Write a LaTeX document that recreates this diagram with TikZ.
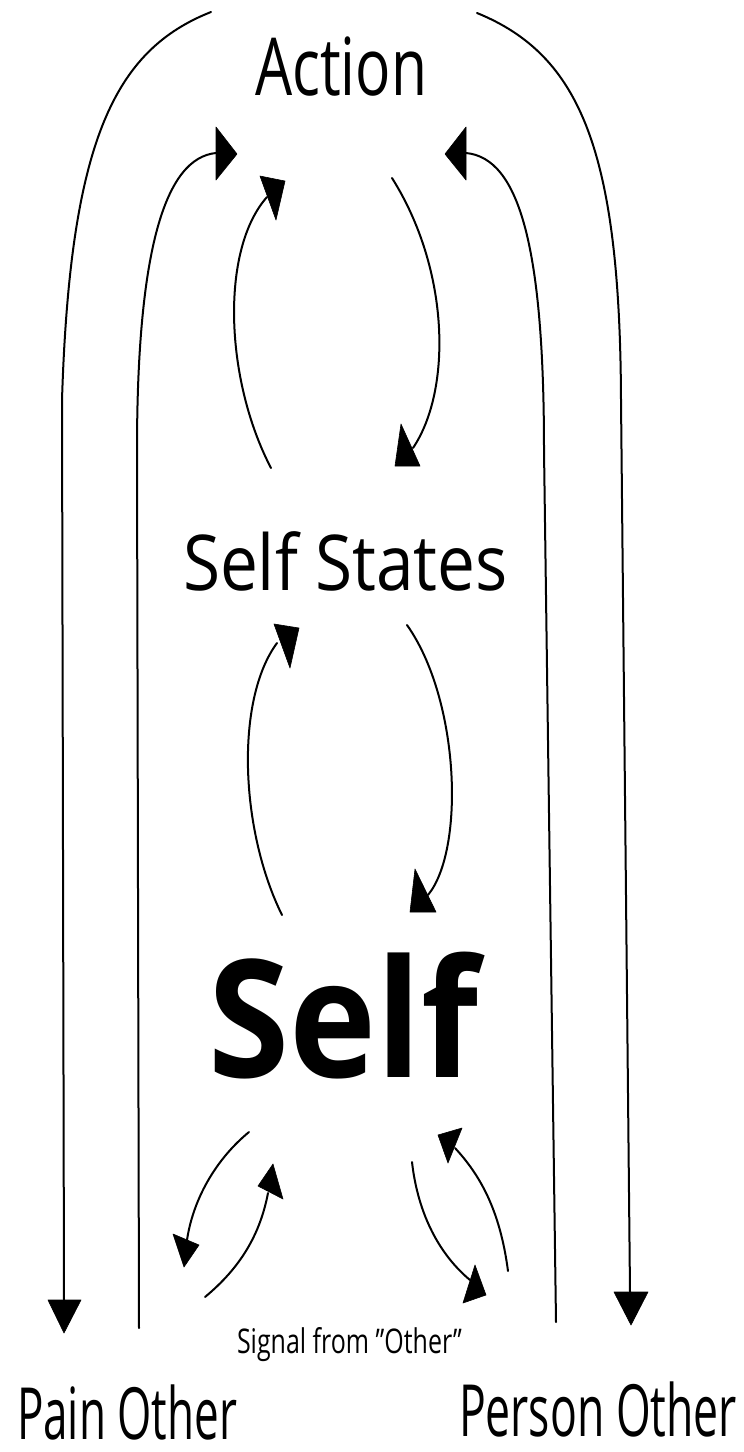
\documentclass[tikz,border=0pt]{standalone}
\usepackage{fontspec}
\setmainfont{Open Sans}
\usepackage{graphicx}
\begin{document}
\begin{tikzpicture}[x=1pt,y=-1pt,
  flow/.style={line width=2pt, line cap=round},
  head/.style={fill=black, draw=black, line width=0.6pt, line join=round},
  lbl/.style={inner sep=0pt, outer sep=0pt, anchor=base west}]
\useasboundingbox (0,0) rectangle (744,1452);

% ---- labels ----
\node[lbl] (action) at (255,95) {\resizebox{172pt}{\height}{\fontsize{80}{80}\selectfont Action}};
\node[lbl] (states) at (183,590) {\resizebox{325pt}{\height}{\fontsize{77}{77}\selectfont Self States}};
\node[lbl] (self) at (208,1077) {\resizebox{270pt}{\height}{\fontsize{164}{164}\selectfont\bfseries Self}};
\node[lbl] (signal) at (237,1353) {\resizebox{225pt}{\height}{\fontsize{34}{34}\selectfont Signal from \symbol{34}Other\symbol{34}}};
\node[lbl] (pain) at (17,1439) {\resizebox{220pt}{\height}{\fontsize{72}{72}\selectfont Pain Other}};
\node[lbl] (person) at (459,1436) {\resizebox{278pt}{\height}{\fontsize{72}{72}\selectfont Person Other}};

% ---- connector end points ----
\coordinate (oLs) at (211,12);   \coordinate (oLe) at (64,1300);
\coordinate (oRs) at (477,13);   \coordinate (oRe) at (630,1292);
\coordinate (iLs) at (139,1328); \coordinate (iLe) at (216,153);
\coordinate (iRs) at (556,1322); \coordinate (iRe) at (466,153);
\coordinate (a1s) at (271,468);  \coordinate (a1e) at (267,197);
\coordinate (a2s) at (392,178);  \coordinate (a2e) at (413,448);
\coordinate (s1s) at (282,915);  \coordinate (s1e) at (277,643);
\coordinate (s2s) at (407,625);  \coordinate (s2e) at (428,895);
\coordinate (bAs) at (249,1132); \coordinate (bAe) at (187,1240);
\coordinate (bBs) at (205,1297); \coordinate (bBe) at (268,1193);
\coordinate (bCs) at (412,1162); \coordinate (bCe) at (470,1280);
\coordinate (bDs) at (508,1271); \coordinate (bDe) at (455,1148);

% ---- outer arcs: Action -> Pain Other / Person Other ----
\draw[flow] (oLs) .. controls (115,50) and (70,140) .. (62,400) -- (oLe);
\fill[head] (48,1300) -- (81,1300) -- (64,1333) -- cycle;
\draw[flow] (oRs) .. controls (580,55) and (620,150) .. (621,400) -- (oRe);
\fill[head] (614,1292) -- (648,1292) -- (631,1325) -- cycle;

% ---- inner arcs: Pain Other / Person Other -> Action ----
\draw[flow] (iLs) -- (137,450) .. controls (137,250) and (165,158) .. (iLe);
\fill[head] (216,127) -- (216,180) -- (237,154) -- cycle;
\draw[flow] (iRs) -- (544,450) .. controls (544,250) and (520,158) .. (iRe);
\fill[head] (466,127) -- (466,180) -- (445,154) -- cycle;

% ---- Action <-> Self States ----
\draw[flow] (a1s) .. controls (225,380) and (220,250) .. (a1e);
\fill[head] (260,176) -- (285,181) -- (276,220) -- cycle;
\draw[flow] (a2s) .. controls (450,270) and (452,390) .. (a2e);
\fill[head] (401,424) -- (395,466) -- (420,466) -- cycle;

% ---- Self States <-> Self ----
\draw[flow] (s1s) .. controls (240,830) and (235,700) .. (s1e);
\fill[head] (274,624) -- (299,628) -- (290,668) -- cycle;
\draw[flow] (s2s) .. controls (460,700) and (465,850) .. (s2e);
\fill[head] (415,869) -- (410,912) -- (436,912) -- cycle;

% ---- Self <-> Others ----
\draw[flow] (bAs) .. controls (215,1160) and (193,1200) .. (bAe);
\fill[head] (173,1234) -- (199,1245) -- (184,1267) -- cycle;
\draw[flow] (bBs) .. controls (240,1268) and (260,1235) .. (bBe);
\fill[head] (273,1164) -- (258,1186) -- (283,1199) -- cycle;
\draw[flow] (bCs) .. controls (418,1215) and (440,1255) .. (bCe);
\fill[head] (475,1265) -- (463,1303) -- (486,1295) -- cycle;
\draw[flow] (bDs) .. controls (500,1210) and (480,1175) .. (bDe);
\fill[head] (462,1128) -- (438,1135) -- (448,1163) -- cycle;
\end{tikzpicture}
\end{document}
